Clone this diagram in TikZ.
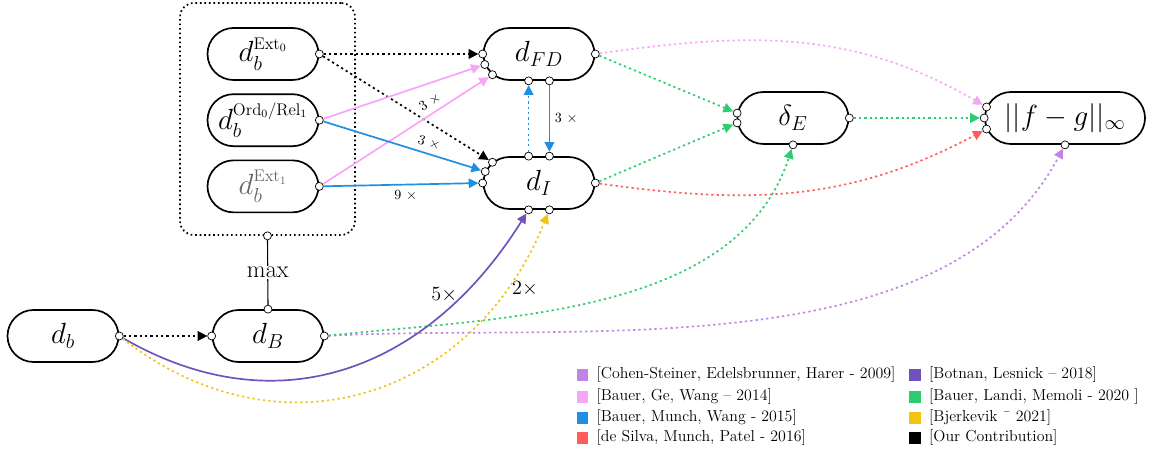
\documentclass[tikz,border=0pt]{standalone}
\usepackage{amsmath,amssymb}
\usepackage{tikz}
\usetikzlibrary{positioning}
\usetikzlibrary{arrows.meta}
\usetikzlibrary{shapes.misc}

\definecolor{cohen}{HTML}{C084E6}
\definecolor{bgw}{HTML}{F7A6F5}
\definecolor{bmw}{HTML}{1E8FE3}
\definecolor{dsmp}{HTML}{FF5C5C}
\definecolor{botnan}{HTML}{7152BD}
\definecolor{blm}{HTML}{2ECC71}
\definecolor{bjerk}{HTML}{F2C311}

\begin{document}
\begin{tikzpicture}[
            dist/.style={
                rounded rectangle,
                draw,
                line width=1.2pt,
                minimum width=2.775cm,
                minimum height=1.3cm,
                inner sep=0pt,
                font=\huge
            },
            port/.style={circle, draw, fill=white, line width=0.5pt, inner sep=0pt, minimum size=0.2cm},
            tip/.style={-{Triangle[length=0.24cm,width=0.24cm]}},
            dots/.style={dash pattern=on 1.6pt off 2.2pt, line width=1.2pt},
            solidc/.style={line width=1.2pt},
            mult/.style={font=\normalsize, text=black},
            bigmult/.style={font=\Large, text=black},
            legsq/.style={fill=#1, minimum size=0.28cm, inner sep=0pt},
            legtxt/.style={font=\fontsize{11.3}{13}\selectfont, inner sep=0pt}
        ]
        \useasboundingbox (0,0) rectangle (28.9,-11.3);

        % distances
        \node[dist] (ext0) at (6.575,-1.35) {$d_b^{\mbox{\large Ext$_0$}}$};
        \node[dist, below = 0.3125cm of ext0] (ord) {$d_b^{\mbox{\large Ord$_0$/Rel$_1$}}$};
        \node[dist, below = 0.3125cm of ord, text=black!60] (ext1) {$d_b^{\mbox{\large Ext$_1$}}$};
        \node[draw, dotted, line width=1.2pt, rounded corners=0.35cm,
            minimum width=4.375cm, minimum height=5.8cm] (grp) at (6.6875,-2.975) {};

        \node[dist] (dfd) at (13.475,-1.35) {$d_{FD}$};
        \node[dist] (di) at (13.475,-4.575) {$d_I$};
        \node[dist] (de) at (19.825,-2.95) {$\delta_E$};
        \node[dist, minimum width=4cm] (nrm) at (26.625,-2.95) {$||f-g||_\infty$};

        \node[dist] (db) at (1.575,-8.4) {$d_b$};
        \node[dist] (dB) at (6.7,-8.4) {$d_B$};

        % ports
        \node[port] (pe0) at (ext0.east) {};
        \node[port] (po) at (ord.east) {};
        \node[port] (pe1) at (ext1.east) {};
        \node[port] (pg) at (grp.south) {};

        \node[port] (pfd1) at (dfd.west) {};
        \node[port] (pfd2) at (dfd.191) {};
        \node[port] (pfd3) at (dfd.204) {};
        \node[port] (pfd4) at ([xshift=-0.26cm]dfd.south) {};
        \node[port] (pfd5) at ([xshift=0.26cm]dfd.south) {};
        \node[port] (pfd6) at (dfd.east) {};

        \node[port] (pi1) at (di.156) {};
        \node[port] (pi2) at (di.168) {};
        \node[port] (pi3) at (di.west) {};
        \node[port] (pi4) at ([xshift=-0.26cm]di.north) {};
        \node[port] (pi5) at ([xshift=0.26cm]di.north) {};
        \node[port] (pi6) at ([xshift=-0.26cm]di.south) {};
        \node[port] (pi7) at ([xshift=0.26cm]di.south) {};
        \node[port] (pi8) at (di.east) {};

        \node[port] (pd1) at (de.175) {};
        \node[port] (pd2) at (de.185) {};
        \node[port] (pd3) at (de.east) {};
        \node[port] (pd4) at (de.south) {};

        \node[port] (pn1) at (nrm.172) {};
        \node[port] (pn2) at (nrm.west) {};
        \node[port] (pn3) at (nrm.188) {};
        \node[port] (pn4) at (nrm.south) {};

        \node[port] (pb) at (db.east) {};
        \node[port] (pB1) at (dB.west) {};
        \node[port] (pB2) at (dB.north) {};
        \node[port] (pB3) at (dB.east) {};

        % connectors
        \draw[tip, dots] (pe0) -- (pfd1);
        \draw[tip, dots] (pe0) -- (pi1);
        \draw[tip, bgw, solidc] (po) -- (pfd2);
        \draw[tip, bgw, solidc] (pe1) -- node[mult, sloped, above, pos=0.68] {3 $\times$} (pfd3);
        \draw[tip, bmw, solidc] (po) -- node[mult, sloped, above, pos=0.65] {3 $\times$} (pi2);
        \draw[tip, bmw, solidc] (pe1) -- node[mult, below, pos=0.53] {9 $\times$} (pi3);
        \draw[tip, bmw, dots] (pi4) -- (pfd4);
        \draw[tip, bmw, solidc] (pfd5) -- node[mult, right] {3 $\times$} (pi5);

        \draw[tip, blm, dots] (pfd6) -- (pd1);
        \draw[tip, blm, dots] (pi8) -- (pd2);
        \draw[tip, blm, dots] (pd3) -- (pn2);
        \draw[tip, bgw, dots] (pfd6) to[out=8, in=150] (pn1);
        \draw[tip, dsmp, dots] (pi8) to[out=-8, in=-152] (pn3);

        \draw[tip, cohen, dots] (pB3) to[out=3, in=-118, looseness=0.85] (pn4);
        \draw[tip, blm, dots] (pB3) to[out=6, in=-108, looseness=0.9] (pd4);
        \draw[tip, botnan, solidc] (pb) to[out=-30, in=-122, looseness=1.1]
            node[bigmult, pos=0.8, left] {5$\times$} (pi6);
        \draw[tip, bjerk, dots] (pb) to[out=-38, in=-112, looseness=1.15]
            node[bigmult, pos=0.85, right] {2$\times$} (pi7);
        \draw[tip, dots] (pb) -- (pB1);
        \draw[line width=0.8pt] (pg) -- node[fill=white, font=\LARGE, inner sep=1pt] {$\max$} (pB2);

        % legend
        \node[legsq=cohen] (sq1) at (14.56,-9.375) {};
        \node[legtxt, right = 0.2cm of sq1] (lg1) {[Cohen-Steiner, Edelsbrunner, Harer - 2009]};
        \node[legsq=bgw] (sq2) at (14.56,-9.925) {};
        \node[legtxt, right = 0.2cm of sq2] (lg2) {[Bauer, Ge, Wang -- 2014]};
        \node[legsq=bmw] (sq3) at (14.56,-10.45) {};
        \node[legtxt, right = 0.2cm of sq3] (lg3) {[Bauer, Munch, Wang - 2015]};
        \node[legsq=dsmp] (sq4) at (14.56,-10.95) {};
        \node[legtxt, right = 0.2cm of sq4] (lg4) {[de Silva, Munch, Patel - 2016]};

        \node[legsq=botnan] (sq5) at (22.875,-9.375) {};
        \node[legtxt, right = 0.2cm of sq5] (lg5) {[Botnan, Lesnick -- 2018]};
        \node[legsq=blm] (sq6) at (22.875,-9.925) {};
        \node[legtxt, right = 0.2cm of sq6] (lg6) {[Bauer, Landi, Memoli - 2020 ]};
        \node[legsq=bjerk] (sq7) at (22.875,-10.45) {};
        \node[legtxt, right = 0.2cm of sq7] (lg7) {[Bjerkevik \={} 2021]};
        \node[legsq=black] (sq8) at (22.875,-10.95) {};
        \node[legtxt, right = 0.2cm of sq8] (lg8) {[Our Contribution]};

    \end{tikzpicture}
\end{document}
